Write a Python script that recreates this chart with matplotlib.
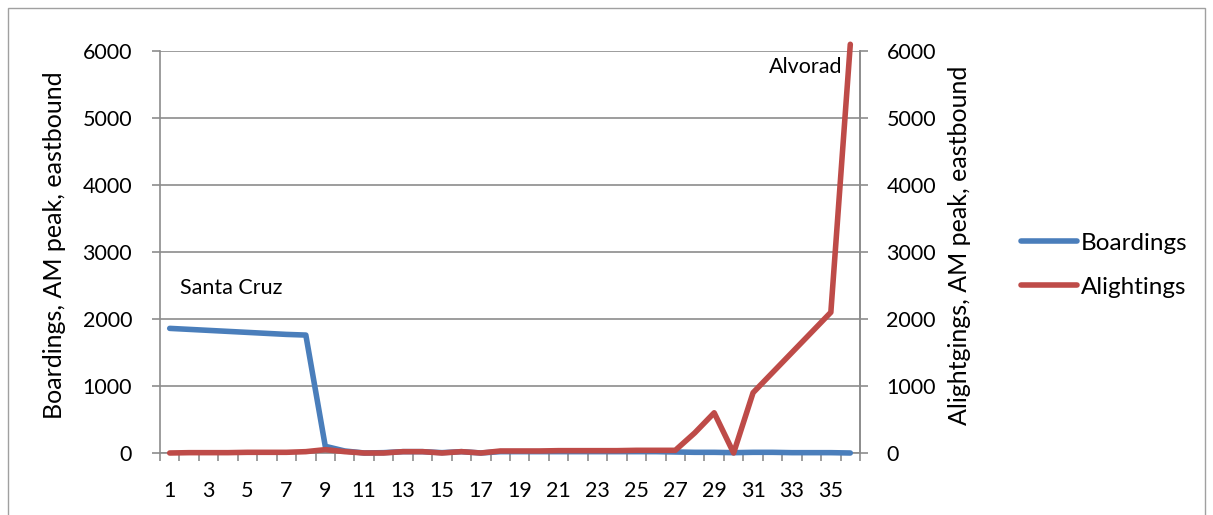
import matplotlib
matplotlib.use("Agg")
import matplotlib.pyplot as plt
import numpy as np
from matplotlib.patches import Rectangle

plt.rcParams['font.family'] = ['Lato', 'DejaVu Sans']

# stops 1..36
stops = list(range(1, 37))
boardings = [1860, 1845, 1830, 1815, 1800, 1785, 1770, 1760, 100, 30,
             0, 5, 20, 20, 5, 20, 0, 20, 20, 20,
             20, 20, 20, 20, 20, 20, 15, 10, 10, 5,
             10, 10, 5, 5, 5, 0]
alightings = [0, 5, 5, 5, 10, 10, 10, 20, 50, 20,
              0, 0, 20, 20, 0, 20, 0, 30, 30, 30,
              35, 35, 35, 35, 40, 40, 40, 300, 600, 0,
              900, 1200, 1500, 1800, 2100, 6100]
xlabels = [str(s) if s % 2 == 1 else "" for s in stops]

blue = "#4a7ebb"
red = "#be4b48"
grid_col = "#8c8c8c"

fig = plt.figure(figsize=(12.13, 5.15), dpi=100)
fig.patches.append(Rectangle((0.007, -0.01), 0.986, 0.995, transform=fig.transFigure,
                             fill=False, edgecolor="#a0a0a0", linewidth=1))
ax = fig.add_axes([0.1319, 0.1204, 0.5771, 0.7806])

x = np.arange(len(stops))
ax.plot(x, boardings, color=blue, linewidth=4, solid_capstyle="round",
        label="Boardings", zorder=3, clip_on=False)
ax.plot(x, alightings, color=red, linewidth=4, solid_capstyle="round",
        label="Alightings", zorder=4, clip_on=False)

ax.set_xlim(-0.5, len(stops) - 0.5)
ax.set_ylim(0, 6000)
ax.set_yticks(range(0, 6001, 1000))
ax.yaxis.grid(True, color=grid_col, linewidth=1.2)
ax.set_axisbelow(True)

ax.set_xticks(x)
ax.set_xticklabels(xlabels, fontsize=15.5)
ax.tick_params(axis="x", length=0, pad=20)
ax.set_xticks(np.arange(-0.5, len(stops), 1.0), minor=True)
ax.tick_params(axis="x", which="minor", length=6, color=grid_col, width=1.2)
ax.tick_params(axis="y", labelsize=15.5, length=6, color=grid_col, width=1.2, pad=14)

ax.spines["top"].set_visible(False)
for s in ["left", "right", "bottom"]:
    ax.spines[s].set_color(grid_col)
    ax.spines[s].set_linewidth(1.2)

ax2 = ax.twinx()
ax2.set_ylim(0, 6000)
ax2.set_yticks(range(0, 6001, 1000))
ax2.tick_params(axis="y", labelsize=15.5, length=6, color=grid_col, width=1.2, pad=13)
for s in ["top", "left", "bottom"]:
    ax2.spines[s].set_visible(False)
ax2.spines["right"].set_color(grid_col)
ax2.spines["right"].set_linewidth(1.2)

fig.text(0.0453, 0.523, "Boardings, AM peak, eastbound", rotation=90,
         ha="center", va="center", fontsize=18)
fig.text(0.7914, 0.524, "Alightgings, AM peak, eastbound", rotation=90,
         ha="center", va="center", fontsize=18)

ax.text(0.55, 2463, "Santa Cruz", fontsize=15.5, ha="left", va="center")
ax.text(34.6, 5761, "Alvorad", fontsize=15.5, ha="right", va="center")

handles, labels = ax.get_legend_handles_labels()
fig.legend(handles, labels, loc="center left", bbox_to_anchor=(0.824, 0.485),
           frameon=False, fontsize=17.5, handlelength=2.3, handletextpad=0.15,
           labelspacing=0.95)

fig.savefig("out.png", dpi=100)
